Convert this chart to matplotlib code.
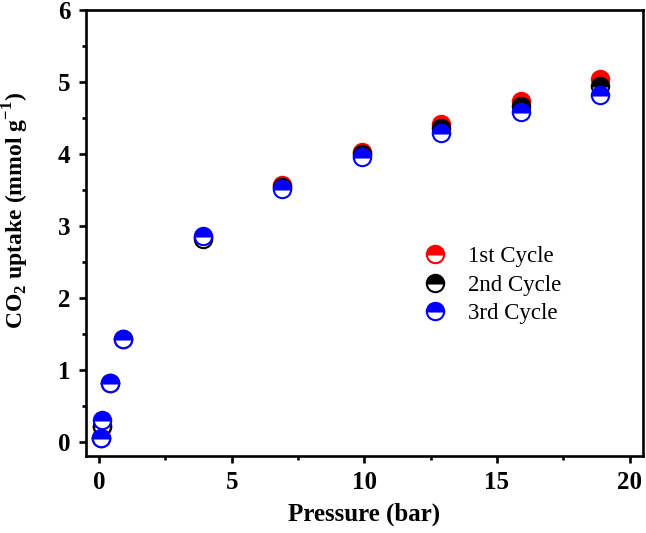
import matplotlib
matplotlib.use("Agg")
import matplotlib.pyplot as plt
from matplotlib.ticker import MultipleLocator

plt.rcParams['font.family'] = ['Liberation Serif', 'DejaVu Serif']
plt.rcParams['mathtext.fontset'] = 'custom'
plt.rcParams['mathtext.rm'] = 'Liberation Serif:bold'
plt.rcParams['mathtext.bf'] = 'Liberation Serif:bold'

# region data
pressure = [0.08, 0.1, 0.4, 0.9, 3.9, 6.9, 9.9, 12.9, 15.9, 18.9]
cycle1 = [0.05, 0.20, 0.82, 1.42, 2.85, 3.57, 4.03, 4.42, 4.74, 5.04]
cycle2 = [0.05, 0.21, 0.82, 1.42, 2.82, 3.54, 4.00, 4.36, 4.66, 4.94]
cycle3 = [0.05, 0.30, 0.82, 1.42, 2.86, 3.51, 3.96, 4.29, 4.58, 4.82]
labels = ['1st Cycle', '2nd Cycle', '3rd Cycle']
colors = ['#ff0000', '#000000', '#0000ff']
# endregion data

fig = plt.figure(figsize=(6.46, 5.33), dpi=100)
ax = fig.add_axes([0.133, 0.1445, 0.862, 0.8365])

for y, lab, c in zip([cycle1, cycle2, cycle3], labels, colors):
    ax.plot(pressure, y, linestyle='none', marker='o', markersize=12.5,
            fillstyle='top', markerfacecolor=c, markerfacecoloralt='white',
            markeredgecolor=c, markeredgewidth=1.5, label=lab)

ax.set_xlim(-0.5, 20.5)
ax.set_ylim(-0.2, 6)
ax.xaxis.set_major_locator(MultipleLocator(5))
ax.xaxis.set_minor_locator(MultipleLocator(2.5))
ax.yaxis.set_major_locator(MultipleLocator(1))
ax.yaxis.set_minor_locator(MultipleLocator(0.5))

for s in ax.spines.values():
    s.set_linewidth(1.9)
ax.tick_params(which='major', direction='out', length=5, width=1.9, labelsize=18, pad=6)
ax.tick_params(which='minor', direction='out', length=3, width=1.9)
ax.tick_params(top=False, right=False)
for t in ax.get_xticklabels() + ax.get_yticklabels():
    t.set_fontweight('bold')

ax.set_xlabel('Pressure (bar)', fontsize=18, fontweight='bold', labelpad=6)
ax.set_ylabel(r'CO$_2$ uptake (mmol g$^{-1}$)', fontsize=17, fontweight='bold')
ax.yaxis.set_label_coords(-0.098, 0.55)

ax.legend(loc='center left', bbox_to_anchor=(0.569, 0.383), frameon=False,
          fontsize=16.5, handletextpad=0.95, labelspacing=0.32, handlelength=1.0)

fig.savefig('out.png', dpi=100)
